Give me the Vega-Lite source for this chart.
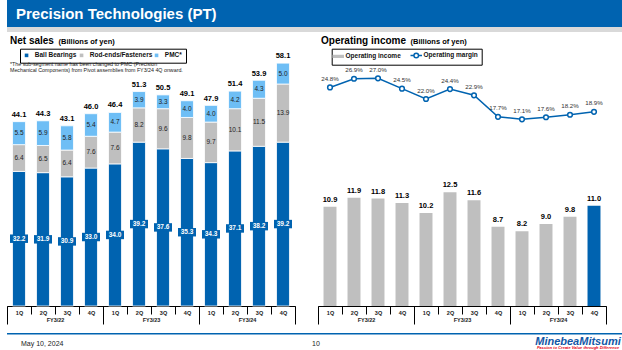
{
  "$schema": "https://vega.github.io/schema/vega-lite/v6.json",
  "padding": 0,
  "background": "white",
  "spacing": 0,
  "config": {
    "font": "Liberation Sans",
    "view": {"stroke": null},
    "axis": {"grid": false},
    "concat": {"spacing": 0}
  },
  "datasets": {
    "pt": [
      {"period": "FY3/22 1Q", "fy": "FY3/22", "Ball Bearings": 32.2, "Rod-ends/Fasteners": 6.4, "PMC": 5.5, "total": 44.1, "oi": 10.9, "om": 24.8},
      {"period": "FY3/22 2Q", "fy": "FY3/22", "Ball Bearings": 31.9, "Rod-ends/Fasteners": 6.5, "PMC": 5.9, "total": 44.3, "oi": 11.9, "om": 26.9},
      {"period": "FY3/22 3Q", "fy": "FY3/22", "Ball Bearings": 30.9, "Rod-ends/Fasteners": 6.4, "PMC": 5.8, "total": 43.1, "oi": 11.8, "om": 27.0},
      {"period": "FY3/22 4Q", "fy": "FY3/22", "Ball Bearings": 33.0, "Rod-ends/Fasteners": 7.6, "PMC": 5.4, "total": 46.0, "oi": 11.3, "om": 24.5},
      {"period": "FY3/23 1Q", "fy": "FY3/23", "Ball Bearings": 34.0, "Rod-ends/Fasteners": 7.6, "PMC": 4.7, "total": 46.4, "oi": 10.2, "om": 22.0},
      {"period": "FY3/23 2Q", "fy": "FY3/23", "Ball Bearings": 39.2, "Rod-ends/Fasteners": 8.2, "PMC": 3.9, "total": 51.3, "oi": 12.5, "om": 24.4},
      {"period": "FY3/23 3Q", "fy": "FY3/23", "Ball Bearings": 37.6, "Rod-ends/Fasteners": 9.6, "PMC": 3.3, "total": 50.5, "oi": 11.6, "om": 22.9},
      {"period": "FY3/23 4Q", "fy": "FY3/23", "Ball Bearings": 35.3, "Rod-ends/Fasteners": 9.8, "PMC": 4.0, "total": 49.1, "oi": 8.7, "om": 17.7},
      {"period": "FY3/24 1Q", "fy": "FY3/24", "Ball Bearings": 34.3, "Rod-ends/Fasteners": 9.7, "PMC": 4.0, "total": 47.9, "oi": 8.2, "om": 17.1},
      {"period": "FY3/24 2Q", "fy": "FY3/24", "Ball Bearings": 37.1, "Rod-ends/Fasteners": 10.1, "PMC": 4.2, "total": 51.4, "oi": 9.0, "om": 17.6},
      {"period": "FY3/24 3Q", "fy": "FY3/24", "Ball Bearings": 38.2, "Rod-ends/Fasteners": 11.5, "PMC": 4.3, "total": 53.9, "oi": 9.8, "om": 18.2},
      {"period": "FY3/24 4Q", "fy": "FY3/24", "Ball Bearings": 39.2, "Rod-ends/Fasteners": 13.9, "PMC": 5.0, "total": 58.1, "oi": 11.0, "om": 18.9}
    ]
  },
  "vconcat": [
    {
      "width": 622,
      "height": 27,
      "view": {"fill": "#0063B0", "stroke": null},
      "data": {"values": [{"t": "Precision Technologies (PT)"}]},
      "mark": {"type": "text", "align": "left", "baseline": "middle", "dx": -302, "dy": 0.5, "fontSize": 15, "fontWeight": "bold", "color": "white"},
      "encoding": {"text": {"field": "t", "type": "nominal"}}
    },
    {
      "spacing": 4,
      "vconcat": [
        {
          "width": 622,
          "height": 5,
          "view": {"fill": "#D9D9D9", "stroke": null},
          "data": {"values": [{}]},
          "mark": {"type": "text", "fontSize": 0},
          "encoding": {"text": {"value": ""}}
        },
        {
          "spacing": 15,
          "resolve": {"scale": {"color": "independent"}, "legend": {"color": "independent"}},
          "hconcat": [
            {
              "width": 288,
              "height": 255,
              "data": {"name": "pt"},
              "title": {
                "text": "Net sales",
                "subtitle": [
                  "\u00a0\u00a0\u00a0\u00a0\u00a0\u00a0\u00a0*The sub-segment name has been changed to PMC (Precision",
                  "\u00a0\u00a0\u00a0\u00a0\u00a0\u00a0\u00a0\u00a0\u00a0\u00a0Mechanical Components) from Pivot assemblies from FY3/24 4Q onward."
                ],
                "anchor": "start",
                "frame": "group",
                "dx": 3,
                "fontSize": 10,
                "fontWeight": "bold",
                "color": "#000",
                "subtitleFontSize": 5.3,
                "subtitleColor": "#222",
                "subtitleLineHeight": 6,
                "subtitlePadding": 15.5,
                "offset": -35.3
              },
              "layer": [
                {
                  "encoding": {
                    "x": {
                      "field": "period", "type": "nominal", "sort": null,
                      "scale": {"paddingInner": 0, "paddingOuter": 0},
                      "axis": {"title": null, "orient": "bottom", "labelExpr": "split(datum.label, ' ')[1]", "tickBand": "extent", "tickSize": 8, "tickColor": "#000", "tickWidth": 1, "domainColor": "#000", "domainWidth": 1, "labelAngle": 0, "labelPadding": -4, "labelFontSize": 5.5, "labelFontWeight": "bold", "labelColor": "#222", "labelBaseline": "top", "grid": false}
                    }
                  },
                  "layer": [
                    {
                      "transform": [
                        {"fold": ["Ball Bearings", "Rod-ends/Fasteners", "PMC"], "as": ["segment", "value"]},
                        {"calculate": "indexof(['Ball Bearings','Rod-ends/Fasteners','PMC'], datum.segment)", "as": "ord"},
                        {"stack": "value", "groupby": ["period"], "sort": [{"field": "ord", "order": "ascending"}], "as": ["v0", "v1"]},
                        {"calculate": "(datum.v0 + datum.v1) / 2", "as": "mid"}
                      ],
                      "layer": [
                        {
                          "mark": {"type": "bar", "width": {"band": 0.54}, "stroke": "white", "strokeWidth": 0.8},
                          "encoding": {
                            "y": {"field": "v0", "type": "quantitative", "scale": {"domain": [0, 61]},
                              "axis": {"title": "(Billions of yen)", "titleAngle": 0, "titleAlign": "left", "titleBaseline": "alphabetic", "titleX": 51, "titleY": -7.5, "titleFontSize": 7.5, "titleFontWeight": "bold", "titleColor": "#000", "labels": false, "ticks": false, "domain": false, "grid": false, "minExtent": 7, "maxExtent": 7}},
                            "y2": {"field": "v1"},
                            "color": {
                              "field": "segment", "type": "nominal",
                              "scale": {"domain": ["Ball Bearings", "Rod-ends/Fasteners", "PMC"], "range": ["#0063B0", "#BFBFBF", "#6EBEF5"]},
                              "legend": {"title": null, "orient": "none", "legendX": 13, "legendY": -2.3, "direction": "horizontal", "strokeColor": "#000", "padding": 3.3, "columnPadding": 1, "labelFontSize": 6.5, "labelFontWeight": "bold", "labelColor": "#111", "labelOffset": 5, "symbolType": "square", "symbolSize": 13, "symbolStrokeWidth": 0, "labelExpr": "datum.label === 'PMC' ? 'PMC*' : datum.label"}
                            }
                          }
                        },
                        {
                          "transform": [{"filter": "datum.segment === 'Ball Bearings'"}],
                          "mark": {"type": "point", "shape": "M-1,-0.47H1V0.47H-1Z", "size": 324, "filled": true, "color": "#0063B0", "opacity": 1, "strokeWidth": 0},
                          "encoding": {"y": {"field": "mid", "type": "quantitative", "scale": {"domain": [0, 61]},
                              "axis": {"title": "(Billions of yen)", "titleAngle": 0, "titleAlign": "left", "titleBaseline": "alphabetic", "titleX": 51, "titleY": -7.5, "titleFontSize": 7.5, "titleFontWeight": "bold", "titleColor": "#000", "labels": false, "ticks": false, "domain": false, "grid": false, "minExtent": 7, "maxExtent": 7}}}
                        },
                        {
                          "transform": [{"filter": "datum.segment === 'Ball Bearings'"}],
                          "mark": {"type": "text", "color": "white", "fontWeight": "bold", "fontSize": 6.5},
                          "encoding": {
                            "y": {"field": "mid", "type": "quantitative", "scale": {"domain": [0, 61]},
                              "axis": {"title": "(Billions of yen)", "titleAngle": 0, "titleAlign": "left", "titleBaseline": "alphabetic", "titleX": 51, "titleY": -7.5, "titleFontSize": 7.5, "titleFontWeight": "bold", "titleColor": "#000", "labels": false, "ticks": false, "domain": false, "grid": false, "minExtent": 7, "maxExtent": 7}},
                            "text": {"field": "value", "type": "quantitative", "format": ".1f"}
                          }
                        },
                        {
                          "transform": [{"filter": "datum.segment !== 'Ball Bearings'"}],
                          "mark": {"type": "text", "color": "#222", "fontSize": 6.5},
                          "encoding": {
                            "y": {"field": "mid", "type": "quantitative", "scale": {"domain": [0, 61]},
                              "axis": {"title": "(Billions of yen)", "titleAngle": 0, "titleAlign": "left", "titleBaseline": "alphabetic", "titleX": 51, "titleY": -7.5, "titleFontSize": 7.5, "titleFontWeight": "bold", "titleColor": "#000", "labels": false, "ticks": false, "domain": false, "grid": false, "minExtent": 7, "maxExtent": 7}},
                            "text": {"field": "value", "type": "quantitative", "format": ".1f"}
                          }
                        }
                      ]
                    },
                    {
                      "mark": {"type": "text", "baseline": "bottom", "dy": -3, "fontSize": 7.5, "fontWeight": "bold", "color": "#000"},
                      "encoding": {
                        "y": {"field": "total", "type": "quantitative", "scale": {"domain": [0, 61]},
                              "axis": {"title": "(Billions of yen)", "titleAngle": 0, "titleAlign": "left", "titleBaseline": "alphabetic", "titleX": 51, "titleY": -7.5, "titleFontSize": 7.5, "titleFontWeight": "bold", "titleColor": "#000", "labels": false, "ticks": false, "domain": false, "grid": false, "minExtent": 7, "maxExtent": 7}},
                        "text": {"field": "total", "type": "quantitative", "format": ".1f"}
                      }
                    }
                  ]
                },
                {
                  "mark": {"type": "text", "fontSize": 0},
                  "encoding": {
                    "x": {
                      "field": "fy", "type": "nominal", "sort": null,
                      "scale": {"paddingInner": 0, "paddingOuter": 0},
                      "axis": {"title": null, "orient": "bottom", "tickBand": "extent", "tickSize": 18, "tickColor": "#000", "tickWidth": 1, "domain": false, "labelAngle": 0, "labelPadding": -6.5, "labelFontSize": 5.5, "labelFontWeight": "bold", "labelColor": "#222", "labelBaseline": "top", "minExtent": 27, "maxExtent": 27, "grid": false}
                    },
                    "text": {"value": ""}
                  }
                }
              ],
              "resolve": {"scale": {"x": "independent"}}
            },
            {
              "width": 288,
              "height": 255,
              "data": {"name": "pt"},
              "title": {
                "text": "Operating income",
                "anchor": "start",
                "frame": "group",
                "dx": 3,
                "fontSize": 10,
                "fontWeight": "bold",
                "color": "#000",
                "offset": -8.5
              },
              "layer": [
                {
                  "encoding": {
                    "x": {
                      "field": "period", "type": "nominal", "sort": null,
                      "scale": {"paddingInner": 0, "paddingOuter": 0},
                      "axis": {"title": null, "orient": "bottom", "labelExpr": "split(datum.label, ' ')[1]", "tickBand": "extent", "tickSize": 8, "tickColor": "#000", "tickWidth": 1, "domainColor": "#000", "domainWidth": 1, "labelAngle": 0, "labelPadding": -4, "labelFontSize": 5.5, "labelFontWeight": "bold", "labelColor": "#222", "labelBaseline": "top", "grid": false}
                    }
                  },
                  "layer": [
                    {
                      "layer": [
                        {
                          "mark": {"type": "bar", "width": {"band": 0.54}},
                          "encoding": {
                            "y": {"field": "oi", "type": "quantitative", "scale": {"domain": [0, 28]},
                              "axis": {"title": "(Billions of yen)", "titleAngle": 0, "titleAlign": "left", "titleBaseline": "alphabetic", "titleX": 92, "titleY": -7.5, "titleFontSize": 7.5, "titleFontWeight": "bold", "titleColor": "#000", "labels": false, "ticks": false, "domain": false, "grid": false, "minExtent": 7, "maxExtent": 7}},
                            "color": {"condition": {"test": "datum.period === 'FY3/24 4Q'", "value": "#0063B0"}, "value": "#BFBFBF"}
                          }
                        },
                        {
                          "mark": {"type": "text", "baseline": "bottom", "dy": -3, "fontSize": 7.5, "fontWeight": "bold", "color": "#000"},
                          "encoding": {
                            "y": {"field": "oi", "type": "quantitative", "scale": {"domain": [0, 28]},
                              "axis": {"title": "(Billions of yen)", "titleAngle": 0, "titleAlign": "left", "titleBaseline": "alphabetic", "titleX": 92, "titleY": -7.5, "titleFontSize": 7.5, "titleFontWeight": "bold", "titleColor": "#000", "labels": false, "ticks": false, "domain": false, "grid": false, "minExtent": 7, "maxExtent": 7}},
                            "text": {"field": "oi", "type": "quantitative", "format": ".1f"}
                          }
                        }
                      ]
                    },
                    {
                      "layer": [
                        {
                          "mark": {"type": "line", "strokeWidth": 1.5},
                          "encoding": {
                            "y": {"field": "om", "type": "quantitative", "scale": {"domain": [-28, 33.6]}, "axis": null},
                            "color": {
                              "datum": "Operating margin", "type": "nominal",
                              "scale": {"domain": ["Operating income", "Operating margin"], "range": ["#BFBFBF", "#0063B0"]},
                              "legend": {
                                "title": null, "orient": "none", "legendX": 13.7, "legendY": -2.3, "direction": "horizontal", "strokeColor": "#000", "padding": 3.3, "columnPadding": 6, "labelFontSize": 6.5, "labelFontWeight": "bold", "labelColor": "#111", "labelOffset": 4, "symbolSize": 132,
                                "encode": {
                                  "symbols": {
                                    "update": {
                                      "shape": {"signal": "datum.value === 'Operating income' ? 'M-1,-0.28H1V0.28H-1Z' : 'M-1,0H-0.4M0.4,0H1M0.4,0A0.4,0.4,0,1,1,-0.4,0A0.4,0.4,0,1,1,0.4,0'"},
                                      "fill": {"signal": "datum.value === 'Operating income' ? '#BFBFBF' : '#ffffff'"},
                                      "stroke": {"signal": "datum.value === 'Operating income' ? 'transparent' : '#0063B0'"},
                                      "strokeWidth": {"signal": "datum.value === 'Operating income' ? 0 : 1.5"},
                                      "opacity": {"value": 1}
                                    }
                                  }
                                }
                              }
                            }
                          }
                        },
                        {
                          "mark": {"type": "point", "filled": true, "fill": "white", "stroke": "#0063B0", "strokeWidth": 1.5, "size": 22, "opacity": 1},
                          "encoding": {"y": {"field": "om", "type": "quantitative", "scale": {"domain": [-28, 33.6]}, "axis": null}}
                        },
                        {
                          "transform": [{"calculate": "format(datum.om, '.1f') + '%'", "as": "omLabel"}],
                          "mark": {"type": "text", "dy": -8.5, "fontSize": 6.2, "color": "#333"},
                          "encoding": {
                            "y": {"field": "om", "type": "quantitative", "scale": {"domain": [-28, 33.6]}, "axis": null},
                            "text": {"field": "omLabel", "type": "nominal"}
                          }
                        }
                      ]
                    }
                  ],
                  "resolve": {"scale": {"y": "independent"}}
                },
                {
                  "mark": {"type": "text", "fontSize": 0},
                  "encoding": {
                    "x": {
                      "field": "fy", "type": "nominal", "sort": null,
                      "scale": {"paddingInner": 0, "paddingOuter": 0},
                      "axis": {"title": null, "orient": "bottom", "tickBand": "extent", "tickSize": 18, "tickColor": "#000", "tickWidth": 1, "domain": false, "labelAngle": 0, "labelPadding": -6.5, "labelFontSize": 5.5, "labelFontWeight": "bold", "labelColor": "#222", "labelBaseline": "top", "minExtent": 27, "maxExtent": 27, "grid": false}
                    },
                    "text": {"value": ""}
                  }
                }
              ],
              "resolve": {"scale": {"x": "independent"}}
            }
          ]
        }
      ]
    },
    {
      "width": 622,
      "height": 1.5,
      "view": {"fill": "#0063B0", "stroke": null},
      "data": {"values": [{}]},
      "mark": {"type": "text", "fontSize": 0},
      "encoding": {"text": {"value": ""}}
    },
    {
      "width": 622,
      "height": 16.5,
      "data": {"values": [{"date": "May 10, 2024", "page": "10", "logo": "MinebeaMitsumi", "tag": "Passion to Create Value through Difference"}]},
      "layer": [
        {"mark": {"type": "text", "align": "left", "dx": -297, "fontSize": 7, "color": "#222"}, "encoding": {"text": {"field": "date", "type": "nominal"}}},
        {"mark": {"type": "text", "align": "center", "dx": -2, "fontSize": 7, "color": "#222"}, "encoding": {"text": {"field": "page", "type": "nominal"}}},
        {"mark": {"type": "text", "align": "center", "dx": 260, "dy": -2.5, "fontSize": 11, "fontWeight": "bold", "fontStyle": "italic", "color": "#1257A6"}, "encoding": {"text": {"field": "logo", "type": "nominal"}}},
        {"mark": {"type": "text", "align": "center", "dx": 260, "dy": 4, "fontSize": 4, "fontWeight": "bold", "fontStyle": "italic", "color": "#E60012"}, "encoding": {"text": {"field": "tag", "type": "nominal"}}}
      ]
    }
  ]
}
